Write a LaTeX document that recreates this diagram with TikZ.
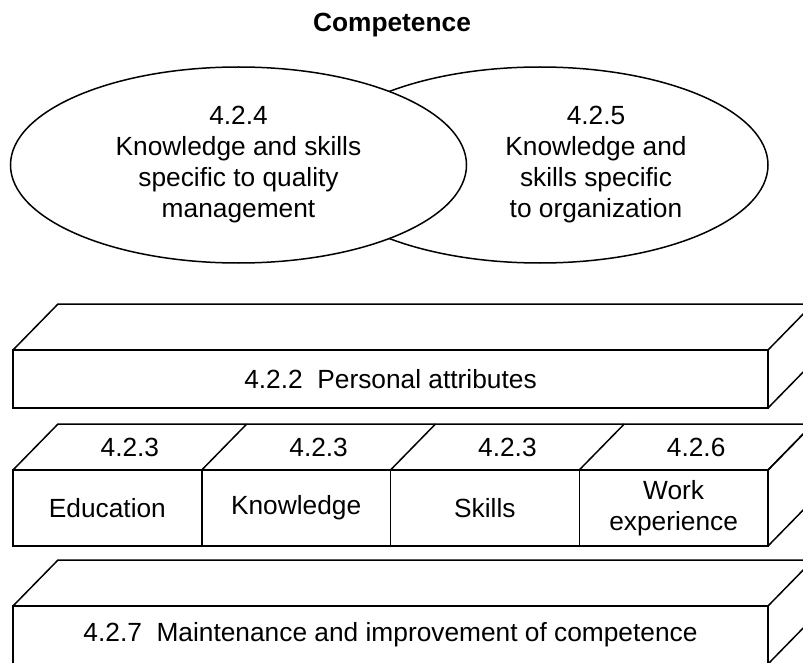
\documentclass[tikz,border=0pt]{standalone}
\usepackage{fontspec}
\setmainfont{Liberation Sans}
\usetikzlibrary{shapes.geometric,positioning,calc}

\begin{document}
\begin{tikzpicture}[
        x=1pt, y=-1pt,
        line width=1.5pt,
        font=\fontsize{26.3}{31}\selectfont,
        disc/.style={ellipse, draw, fill=white, minimum width=456pt,
            minimum height=196pt, inner sep=0pt, align=center},
        face/.style={rectangle, draw, fill=white, minimum width=#1,
            minimum height=58pt, inner sep=0pt, outer sep=0pt, align=center},
        cell/.style={face=188.75pt, minimum height=76pt}
    ]
    \useasboundingbox (0,0) rectangle (803,663);
    \clip (0,0) rectangle (803,663);

    \node[font=\fontsize{26.3}{31}\selectfont\bfseries] (title) at (392,25) {Competence};

    % two overlapping ellipses, the left one in front
    \node[disc] (org) at (540,165) {};
    \node[disc] (qm) at (238.5,165) {4.2.4\\Knowledge and skills\\specific to quality\\management};
    \node[align=center] (orgtext) at (596,165) {4.2.5\\Knowledge and\\skills specific\\to organization};

    % slab 4.2.2
    \node[face=755pt] (attrs) at (390.5,379) {4.2.2\ \ Personal attributes};
    \draw (attrs.north west) -- ++(45,-46) -- ($(attrs.north east)+(45,-46)$) -- (attrs.north east)
        ($(attrs.north east)+(45,-46)$) -- ($(attrs.south east)+(45,-46)$) -- (attrs.south east);

    % slab of four cells
    \node[cell] (edu) at (107.375,508) {Education};
    \node[cell, right=0pt of edu] (know) {Knowledge};
    \node[cell, right=0pt of know] (skills) {Skills};
    \node[cell, right=0pt of skills] (work) {Work\\experience};
    \draw (edu.north west) -- ++(45,-46) -- ($(work.north east)+(45,-46)$) -- (work.north east)
        ($(work.north east)+(45,-46)$) -- ($(work.south east)+(45,-46)$) -- (work.south east);
    \foreach \c/\num in {edu/4.2.3, know/4.2.3, skills/4.2.3, work/4.2.6} {
        \draw (\c.north east) -- ++(45,-46);
        \node (\c-top) at ($(\c.north)+(22.5,-23)$) {\num};
    }

    % slab 4.2.7
    \node[face=755pt] (upkeep) at (390.5,635) {4.2.7\ \ Maintenance and improvement of competence};
    \draw (upkeep.north west) -- ++(45,-46) -- ($(upkeep.north east)+(45,-46)$) -- (upkeep.north east)
        ($(upkeep.north east)+(45,-46)$) -- ($(upkeep.south east)+(45,-46)$) -- (upkeep.south east);
\end{tikzpicture}
\end{document}
